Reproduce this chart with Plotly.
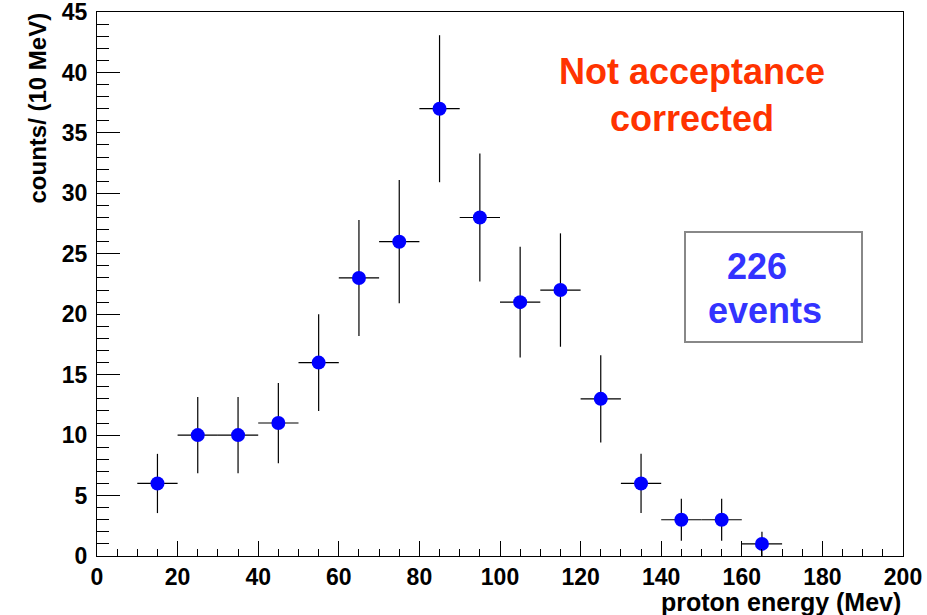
import plotly.graph_objects as go

energy = [15, 25, 35, 45, 55, 65, 75, 85, 95, 105, 115, 125, 135, 145, 155, 165]
counts = [6, 10, 10, 11, 16, 23, 26, 37, 28, 21, 22, 13, 6, 3, 3, 1]
count_err = [2.45, 3.16, 3.16, 3.32, 4.0, 4.8, 5.1, 6.08, 5.29, 4.58, 4.69, 3.61, 2.45, 1.73, 1.73, 1.0]
bin_half = [5] * len(energy)

FONT = "Liberation Sans, Arial, sans-serif"

fig = go.Figure()
fig.add_trace(go.Scatter(
    x=energy, y=counts, mode="markers",
    marker=dict(color="#0000ff", size=14, line=dict(width=0)),
    error_y=dict(type="data", array=count_err, color="black", thickness=1.2, width=0),
    error_x=dict(type="data", array=bin_half, color="black", thickness=1.2, width=0),
    showlegend=False,
))

axis_common = dict(
    showgrid=False, zeroline=False, showline=True, linecolor="black", linewidth=1.2,
    mirror=True, ticks="inside", tickcolor="black", automargin=False,
    ticklabeloverflow="allow",
    tickfont=dict(family=FONT, size=23, color="black", weight="bold"),
)

fig.update_xaxes(range=[0, 200], dtick=20, tick0=0, ticklen=15, tickwidth=1.2,
                 minor=dict(dtick=5, ticklen=7, ticks="inside", tickcolor="black", tickwidth=1.2),
                 ticklabelstandoff=0, **axis_common)
fig.update_yaxes(range=[0, 45], dtick=5, tick0=0, ticklen=23, tickwidth=1.2,
                 minor=dict(dtick=1, ticklen=12, ticks="inside", tickcolor="black", tickwidth=1.2),
                 ticklabelstandoff=4, **axis_common)

fig.update_layout(
    width=927, height=615,
    margin=dict(l=97, r=24, t=12, b=59, autoexpand=False),
    paper_bgcolor="white", plot_bgcolor="white",
    shapes=[dict(type="rect", xref="paper", yref="paper",
                 x0=(685 - 97) / 806, x1=(862 - 97) / 806,
                 y0=(556 - 342) / 544, y1=(556 - 232) / 544,
                 line=dict(color="#888888", width=2), fillcolor="white", layer="below")],
    annotations=[
        dict(text="counts/ (10 MeV)", xref="paper", yref="paper",
             x=(37 - 97) / 806, y=(556 - 11) / 544, xanchor="center", yanchor="top",
             textangle=-90, showarrow=False,
             font=dict(family=FONT, size=24, color="black", weight="bold")),
        dict(text="proton energy (Mev)", xref="paper", yref="paper",
             x=1.0, y=(556 - 602) / 544, xanchor="right", yanchor="middle",
             showarrow=False,
             font=dict(family=FONT, size=25, color="black", weight="bold")),
        dict(text="Not acceptance<br>corrected", xref="paper", yref="paper",
             x=(692 - 97) / 806, y=(556 - 95) / 544, xanchor="center", yanchor="middle",
             showarrow=False, align="center",
             font=dict(family=FONT, size=36, color="#ff3300", weight="bold")),
        dict(text="226", xref="paper", yref="paper",
             x=(757 - 97) / 806, y=(556 - 266) / 544, xanchor="center", yanchor="middle",
             showarrow=False,
             font=dict(family=FONT, size=36, color="#3333ff", weight="bold")),
        dict(text="events", xref="paper", yref="paper",
             x=(765 - 97) / 806, y=(556 - 310) / 544, xanchor="center", yanchor="middle",
             showarrow=False,
             font=dict(family=FONT, size=36, color="#3333ff", weight="bold")),
    ],
)

fig.write_html("out.html")
